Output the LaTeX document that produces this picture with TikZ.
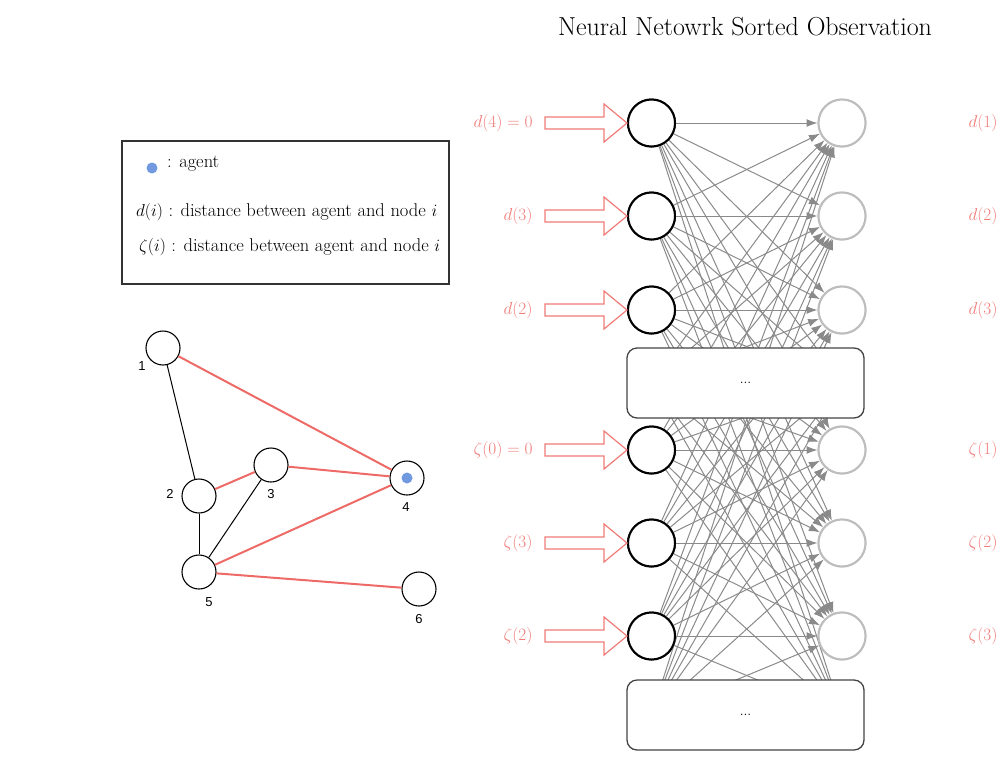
\documentclass[tikz,border=0pt]{standalone}
\usepackage{fontspec}
\newfontfamily\hv{Liberation Sans}
\usetikzlibrary{arrows.meta,calc}
\definecolor{redl}{HTML}{F07C78}
\definecolor{rede}{HTML}{EE6A66}
\definecolor{blued}{HTML}{7099E0}
\definecolor{grayn}{HTML}{BDBDBD}
\definecolor{grayl}{HTML}{8A8A8A}
\definecolor{boxc}{HTML}{444444}
\begin{document}
\begin{tikzpicture}[x=1pt,y=-1pt,
  inneuron/.style={circle,draw=black,line width=2pt,fill=white,minimum size=47pt,inner sep=0pt},
  outneuron/.style={circle,draw=grayn,line width=2pt,fill=white,minimum size=47pt,inner sep=0pt},
  hidneuron/.style={circle,minimum size=47pt,inner sep=0pt},
  conn/.style={draw=grayl,line width=1pt,-{Latex[length=11pt,width=8pt]}},
  dotsbox/.style={draw=boxc,line width=1.3pt,fill=white,rounded corners=10pt,minimum width=237pt,minimum height=70pt,inner sep=0pt,font=\fontsize{14}{16}\selectfont},
  redlab/.style={text=redl,font=\fontsize{18}{21}\selectfont},
  gnode/.style={circle,draw=black,line width=1.1pt,fill=white,minimum size=34pt,inner sep=0pt},
  glab/.style={font=\hv\fontsize{13}{15}\selectfont},
  redge/.style={draw=rede,line width=2pt},
  bedge/.style={draw=black,line width=1pt},
  legtext/.style={anchor=west,font=\fontsize{18.5}{22}\selectfont,inner sep=0pt},
  blockarrow/.style={draw=redl,line width=1.2pt,fill=white}
]
\useasboundingbox (0,0) rectangle (1004,756);

% title
\node[font=\fontsize{26}{30}\selectfont] (title) at (745,27) {Neural Netowrk Sorted Observation};

% neurons
\foreach \i/\y in {1/123,2/216,3/310,5/450,6/543,7/636}{
  \node[inneuron] (L\i) at (651.5,\y) {};
  \node[outneuron] (R\i) at (842,\y) {};
}
\foreach \i/\y in {4/383,8/715}{
  \node[hidneuron] (L\i) at (651.5,\y) {};
  \node[hidneuron] (R\i) at (842,\y) {};
}
% connections
\foreach \i in {1,...,8}{
  \foreach \j in {1,...,8}{
    \draw[conn] (L\i) -- (R\j);
  }
}
% redraw neurons on top
\foreach \i/\y in {1/123,2/216,3/310,5/450,6/543,7/636}{
  \node[inneuron] at (651.5,\y) {};
  \node[outneuron] at (842,\y) {};
}
% boxes
\node[dotsbox] (B1) at (745.5,383) {...};
\node[dotsbox] (B2) at (745.5,715) {...};

% red input arrows and labels
\foreach \i/\lab in {1/{$d(4)=0$},2/{$d(3)$},3/{$d(2)$},5/{$\zeta(0)=0$},6/{$\zeta(3)$},7/{$\zeta(2)$}}{
  \draw[blockarrow] (L\i.west) -- ++(-23,-19) -- ++(0,13) -- ++(-59,0) -- ++(0,12) -- ++(59,0) -- ++(0,13) -- cycle;
  \node[redlab,anchor=east] (IL\i) at ($(L\i.west)+(-91,0)$) {\lab};
}
% output labels
\foreach \i/\lab in {1/{$d(1)$},2/{$d(2)$},3/{$d(3)$},5/{$\zeta(1)$},6/{$\zeta(2)$},7/{$\zeta(3)$}}{
  \node[redlab,anchor=east] (OL\i) at ($(R\i)+(159,0)$) {\lab};
}

% legend
\node[draw=black!80,line width=1.2pt,minimum width=327pt,minimum height=143pt,inner sep=0pt] (legend) at (285.5,212.5) {};
\fill[blued] (152,168) circle (5.5);
\node[legtext] (lg1) at (167,164) {: agent};
\node[legtext] (lg2) at (136,212) {$d(i)$ : distance between agent and node $i$};
\node[legtext] (lg3) at (139,247) {$\zeta(i)$ : distance between agent and node $i$};

% graph
\node[gnode] (g1) at (163,348) {};
\node[gnode] (g2) at (199,496) {};
\node[gnode] (g3) at (271,465) {};
\node[gnode] (g4) at (407,478) {};
\node[gnode] (g5) at (199,572) {};
\node[gnode] (g6) at (419,589) {};
\fill[blued] (g4) circle (5.5);
\draw[bedge] (g1) -- (g2);
\draw[bedge] (g2) -- (g5);
\draw[bedge] (g3) -- (g5);
\draw[redge] (g1) -- (g4);
\draw[redge] (g2) -- (g3);
\draw[redge] (g3) -- (g4);
\draw[redge] (g4) -- (g5);
\draw[redge] (g5) -- (g6);
\node[glab] (n1) at (142,366) {1};
\node[glab] (n2) at (170,494) {2};
\node[glab] (n3) at (271,494) {3};
\node[glab] (n4) at (406,507) {4};
\node[glab] (n5) at (209,602) {5};
\node[glab] (n6) at (419,619) {6};
\end{tikzpicture}
\end{document}
